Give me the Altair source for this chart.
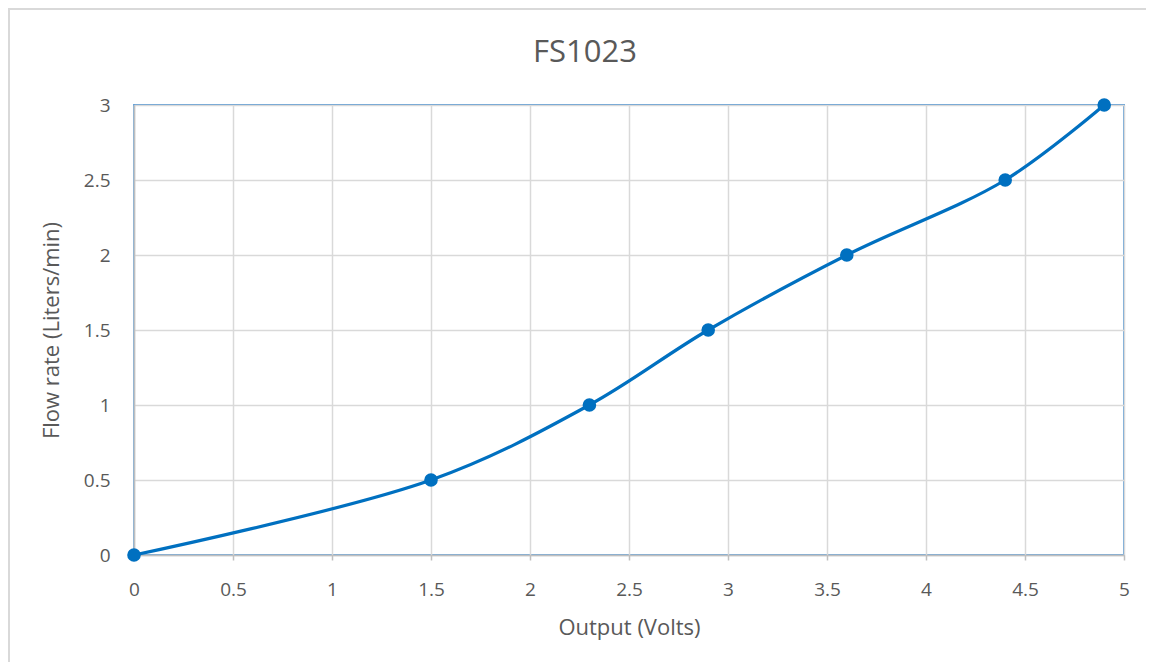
import altair as alt
import pandas as pd

chart_title = ["FS1023"]
volts = [0, 1.5, 2.3, 2.9, 3.6, 4.4, 4.9]
flow = [0, 0.5, 1.0, 1.5, 2.0, 2.5, 3.0]
x_ticks = [0, 0.5, 1, 1.5, 2, 2.5, 3, 3.5, 4, 4.5, 5]
y_ticks = [0, 0.5, 1, 1.5, 2, 2.5, 3]

df = pd.DataFrame({"volts": volts, "flow": flow})
tdf = pd.DataFrame({"t": chart_title})

FONT = "Open Sans"
GREY = "#595959"
BLUE = "#0070C0"

x = alt.X("volts:Q", title="Output (Volts)",
          scale=alt.Scale(domain=[0, 5], nice=False),
          axis=alt.Axis(values=x_ticks, format="~g", tickSize=5, tickColor="#BFBFBF", tickWidth=1.5,
                        labelPadding=20, titlePadding=18, labelFlush=False))
y = alt.Y("flow:Q", title="Flow rate (Liters/min)",
          scale=alt.Scale(domain=[0, 3], nice=False),
          axis=alt.Axis(values=y_ticks, format="~g", ticks=False, labelPadding=24, titlePadding=20,
                        labelFlush=False))

frame = alt.Chart(tdf).mark_rect(fill="white", fillOpacity=0, stroke="#D9D9D9", strokeWidth=2, clip=False).encode(
    x=alt.value(-125), x2=alt.value(1100), y=alt.value(-96), y2=alt.value(700)
)

title = alt.Chart(tdf).mark_text(font=FONT, fontSize=31, color=GREY, align="center",
                                 baseline="alphabetic").encode(
    text="t:N", x=alt.value(451), y=alt.value(-43)
)

line = alt.Chart(df).mark_line(interpolate="catmull-rom", color=BLUE, strokeWidth=3.2).encode(x=x, y=y)
pts = alt.Chart(df).mark_circle(color=BLUE, size=185, opacity=1).encode(x=x, y=y)

chart = alt.layer(frame, title, line, pts).properties(
    width=990, height=450,
    background="white",
    padding={"left": 126, "top": 97, "right": 22, "bottom": 107},
    autosize=alt.AutoSizeParams(type="none"),
).configure_view(
    stroke="#5B9BD5", strokeWidth=1.8
).configure_axis(
    labelFont=FONT, titleFont=FONT, labelFontSize=19, titleFontSize=22,
    labelColor=GREY, titleColor=GREY, titleFontWeight="normal",
    gridColor="#D9D9D9", gridWidth=1.5, domainColor="#BFBFBF", domainWidth=1.5,
)

chart.save("out.html", embed_options={"renderer": "svg", "actions": False})
